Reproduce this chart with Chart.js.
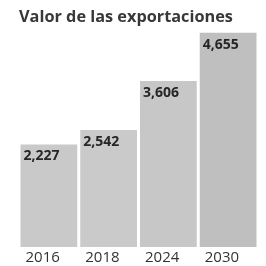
<!DOCTYPE html>
<html lang="es">
<head>
    <meta charset="UTF-8">
    <title>Valor de las exportaciones</title>
    <script src="https://cdn.jsdelivr.net/npm/chart.js"></script>
    <style>
        body {
            margin: 0;
            background-color: #ffffff;
        }

        #chart-container {
            position: relative;
            width: 266px;
            height: 266px;
        }
    </style>
</head>
<body>
    <div id="chart-container">
        <canvas id="exportChart"></canvas>
    </div>

    <script>
        // Datos del gráfico
        const years = ['2016', '2018', '2024', '2030'];
        const values = [2227, 2542, 3606, 4655];
        const valueLabels = ['2,227', '2,542', '3,606', '4,655'];
        const barColors = ['#c9c9c9', '#cacaca', '#c7c7c7', '#bfbfbf'];

        // Etiquetas dentro de cada barra y años debajo
        const barLabels = {
            id: 'barLabels',
            afterDatasetsDraw(chart) {
                const ctx = chart.ctx;
                const bars = chart.getDatasetMeta(0).data;
                ctx.save();
                bars.forEach((bar, i) => {
                    const left = bar.x - bar.width / 2;
                    ctx.fillStyle = '#262626';
                    ctx.font = 'bold 14px "Open Sans", sans-serif';
                    ctx.textAlign = 'left';
                    ctx.textBaseline = 'middle';
                    ctx.fillText(valueLabels[i], left + 3, bar.y + 12);

                    ctx.fillStyle = '#333333';
                    ctx.font = '15px "Open Sans", sans-serif';
                    ctx.fillText(years[i], left + 5, chart.chartArea.bottom + 11);
                });
                ctx.restore();
            }
        };

        const ctx = document.getElementById('exportChart').getContext('2d');
        new Chart(ctx, {
            type: 'bar',
            data: {
                labels: years,
                datasets: [{
                    data: values,
                    backgroundColor: barColors,
                    borderWidth: 0,
                    barPercentage: 0.95,
                    categoryPercentage: 1
                }]
            },
            options: {
                responsive: true,
                maintainAspectRatio: false,
                animation: false,
                layout: {
                    padding: { left: 19, right: 8, top: 0, bottom: 19 }
                },
                plugins: {
                    legend: { display: false },
                    tooltip: { enabled: false },
                    title: {
                        display: true,
                        text: 'Valor de las exportaciones',
                        align: 'start',
                        color: '#383838',
                        font: { family: '"Open Sans", sans-serif', size: 16.3, weight: 'bold' },
                        padding: { top: 8, bottom: 5 }
                    }
                },
                scales: {
                    x: { display: false },
                    y: { display: false, min: 0, max: 4655 }
                }
            },
            plugins: [barLabels]
        });
    </script>
</body>
</html>
